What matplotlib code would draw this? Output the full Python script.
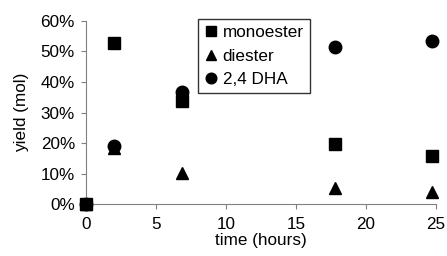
import matplotlib
matplotlib.use("Agg")
import matplotlib.pyplot as plt
from matplotlib.ticker import PercentFormatter

plt.rcParams['font.family'] = ['Liberation Sans', 'DejaVu Sans']

# time (hours) and yields (%)
time_h = [0, 2, 6.9, 17.8, 24.7]
monoester = [0, 52.8, 33.8, 19.6, 15.8]
diester = [0, 18.5, 10.3, 5.3, 3.9]
dha = [0, 19.0, 36.6, 51.6, 53.4]

fig = plt.figure(figsize=(4.47, 2.56), dpi=100)
ax = fig.add_axes([0.192, 0.203, 0.783, 0.715])

ax.plot(time_h, monoester, 's', color='black', markersize=8, label='monoester',
        clip_on=False, zorder=4)
ax.plot(time_h, diester, '^', color='black', markersize=9, label='diester', clip_on=False)
ax.plot(time_h, dha, 'o', color='black', markersize=9, label='2,4 DHA', clip_on=False)

fs = 12.3
ax.set_xlim(0, 25)
ax.set_ylim(0, 60)
ax.set_xticks([0, 5, 10, 15, 20, 25])
ax.set_yticks([0, 10, 20, 30, 40, 50, 60])
ax.yaxis.set_major_formatter(PercentFormatter(decimals=0))
for s in ['top', 'right']:
    ax.spines[s].set_visible(False)
for s in ['left', 'bottom']:
    ax.spines[s].set_color('#808080')
ax.tick_params(direction='out', length=3.8, color='#808080', labelsize=fs)
ax.tick_params(axis='x', pad=5.5)
ax.tick_params(axis='y', pad=4)
ax.set_xlabel('time (hours)', fontsize=fs, labelpad=0.5)
ax.set_ylabel('yield (mol)', fontsize=fs, labelpad=8)

leg = ax.legend(loc='upper left', bbox_to_anchor=(0.32, 1.01), fontsize=fs,
                frameon=True, fancybox=False, edgecolor='black', handletextpad=0.2,
                handlelength=0.9, borderpad=0.35, labelspacing=0.5, borderaxespad=0,
                markerscale=0.85)
leg.get_frame().set_linewidth(1)

fig.savefig('out.png', dpi=100)
